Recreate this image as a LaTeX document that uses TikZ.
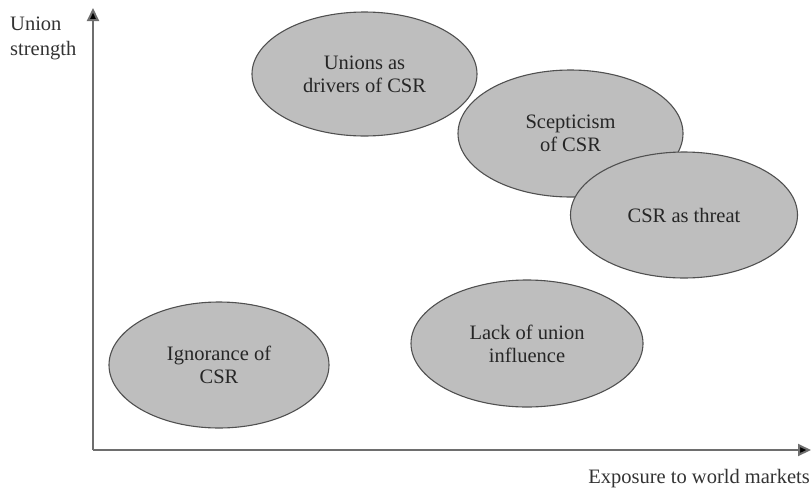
\documentclass[tikz,border=0pt]{standalone}
\usepackage{fontspec}
\setmainfont{Liberation Serif}
\usetikzlibrary{shapes.geometric,arrows.meta}
\definecolor{blobfill}{RGB}{190,190,190}
\definecolor{blobline}{RGB}{80,80,80}
\definecolor{axisgray}{RGB}{110,110,110}
\begin{document}
\begin{tikzpicture}[x=1pt,y=-1pt,
  blob/.style={ellipse,draw=blobline,fill=blobfill,line width=1.1pt,inner sep=0pt,
    align=center,font=\fontsize{20.5}{23}\selectfont,text=black!85},
  lbl/.style={inner sep=0pt,font=\fontsize{20.5}{24.5}\selectfont,text=black!80},
  axis/.style={draw=axisgray,line width=2pt,-{Triangle[length=13pt,width=12pt,fill=black]}}]
\useasboundingbox (0,0) rectangle (811,501);
\coordinate (O) at (93,450);
\coordinate (ytip) at (93,8);
\coordinate (xtip) at (811,450);
\draw[axis] (O) -- (ytip);
\draw[axis] (O) -- (xtip);
\node[lbl,align=left,anchor=north west] (ylab) at (10,17) {Union\\strength};
\node[lbl,anchor=base east] (xlab) at (810,483) {Exposure to world markets};
\node[blob,minimum width=225pt,minimum height=124pt] (drivers) at (364.5,74) {Unions as\\drivers of CSR};
\node[blob,minimum width=225pt,minimum height=127pt] (scept) at (570.5,133.5) {Scepticism\\of CSR};
\node[blob,minimum width=227pt,minimum height=126pt] (threat) at (684,215) {CSR as threat};
\node[blob,minimum width=220pt,minimum height=126pt] (ignor) at (219,365) {Ignorance of\\CSR};
\node[blob,minimum width=232pt,minimum height=127pt] (lack) at (527,343.5) {Lack of union\\influence};
\end{tikzpicture}
\end{document}
